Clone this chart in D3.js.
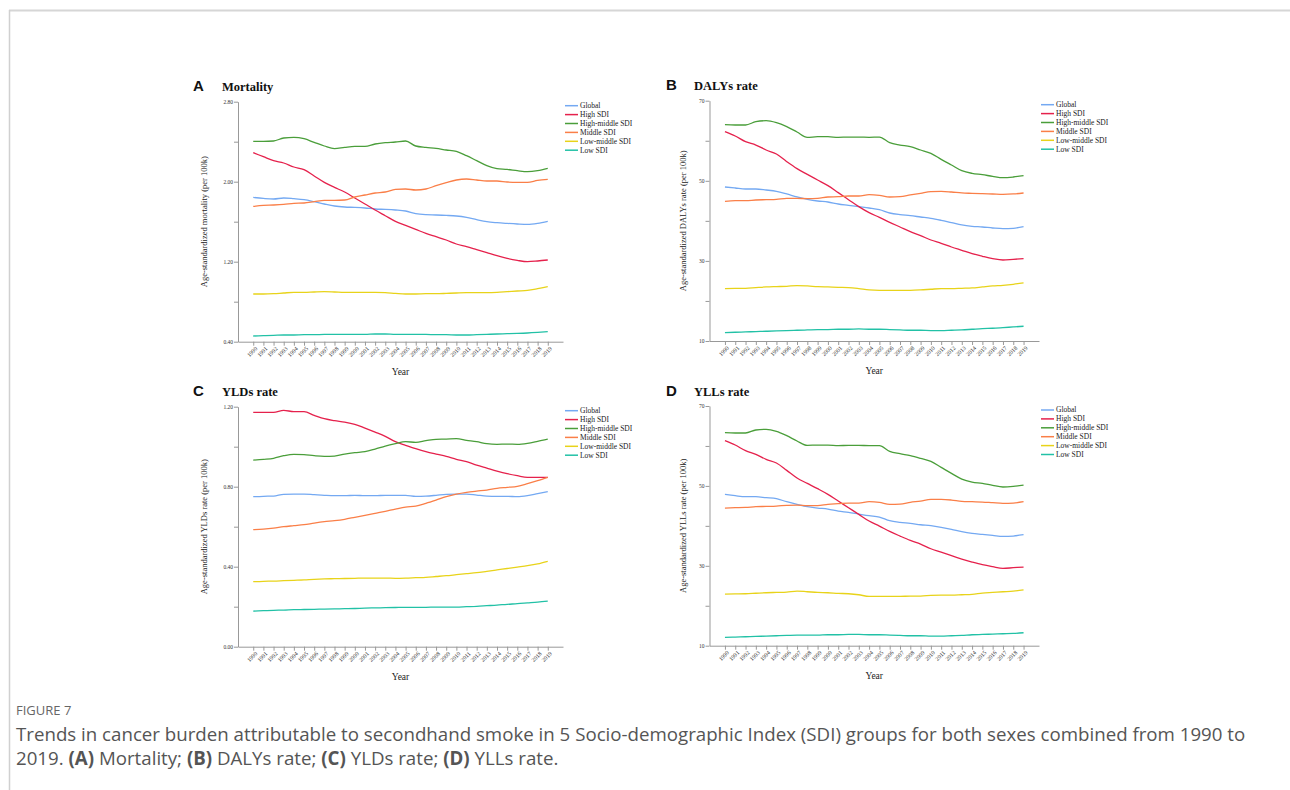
<!DOCTYPE html>
<html>
<head>
<meta charset="utf-8" />
<title>Figure 7 – SDI trends</title>
<script src="https://d3js.org/d3.v7.min.js"></script>
<style>
  body { margin: 0; background: #fff; }
  .serif { font-family: "Liberation Serif", "DejaVu Serif", serif; }
  .axis path, .axis line { stroke: #999; }
  .axis text { font-family: "Liberation Serif", serif; fill: #333; }
</style>
</head>
<body>
<svg width="1290" height="790"></svg>
<script>
const years = [1990,1991,1992,1993,1994,1995,1996,1997,1998,1999,2000,2001,2002,2003,2004,
               2005,2006,2007,2008,2009,2010,2011,2012,2013,2014,2015,2016,2017,2018,2019];
const seriesNames = ["Global", "High SDI", "High-middle SDI", "Middle SDI", "Low-middle SDI", "Low SDI"];
const seriesColors = ["#74a9f2", "#e5214c", "#4a9e3a", "#fa7f48", "#e8d31a", "#22c1a6"];

// A: mortality (per 100k), rows follow seriesNames
const mortality = [
  [1.843,1.833,1.827,1.837,1.83,1.82,1.80,1.777,1.757,1.747,1.743,1.737,1.727,1.723,1.717,1.707,1.68,1.67,1.667,1.663,1.657,1.643,1.62,1.60,1.59,1.583,1.577,1.573,1.583,1.603],
  [2.29,2.25,2.21,2.187,2.147,2.12,2.057,1.993,1.943,1.897,1.837,1.777,1.717,1.66,1.603,1.563,1.523,1.483,1.45,1.417,1.377,1.35,1.32,1.29,1.26,1.233,1.213,1.20,1.207,1.217],
  [2.403,2.403,2.407,2.437,2.443,2.43,2.393,2.357,2.33,2.343,2.353,2.353,2.377,2.39,2.397,2.407,2.357,2.343,2.333,2.317,2.303,2.26,2.21,2.16,2.13,2.123,2.11,2.10,2.11,2.133],
  [1.753,1.763,1.767,1.773,1.783,1.787,1.80,1.813,1.813,1.817,1.847,1.867,1.887,1.897,1.923,1.927,1.917,1.927,1.96,1.99,2.017,2.027,2.017,2.007,2.007,1.997,1.993,1.993,2.013,2.023],
  [0.877,0.877,0.88,0.887,0.893,0.893,0.897,0.90,0.897,0.893,0.893,0.893,0.893,0.89,0.883,0.877,0.877,0.88,0.88,0.883,0.887,0.89,0.89,0.89,0.893,0.90,0.907,0.913,0.93,0.95],
  [0.457,0.46,0.463,0.467,0.467,0.47,0.47,0.473,0.473,0.473,0.473,0.473,0.477,0.477,0.473,0.473,0.473,0.473,0.47,0.47,0.467,0.467,0.47,0.473,0.477,0.48,0.483,0.487,0.493,0.50]
];
// B: DALYs rate
const dalys = [
  [48.45,48.2,47.95,47.95,47.7,47.37,46.71,45.96,45.38,44.96,44.71,44.21,43.88,43.54,43.21,42.8,41.96,41.55,41.3,40.96,40.63,40.13,39.55,38.97,38.64,38.47,38.22,38.05,38.14,38.55],
  [62.26,61.18,59.77,58.93,57.69,56.69,54.78,53.03,51.61,50.2,48.79,47.04,45.29,43.54,42.04,40.88,39.63,38.47,37.3,36.31,35.22,34.39,33.47,32.64,31.81,31.15,30.57,30.23,30.4,30.57],
  [64.01,63.93,63.93,64.76,65.01,64.51,63.51,62.18,60.85,61.01,61.01,60.85,60.93,60.93,60.85,60.93,59.51,58.93,58.52,57.69,56.86,55.36,53.94,52.53,51.86,51.53,51.11,50.78,50.95,51.28],
  [44.87,45.04,45.04,45.21,45.29,45.37,45.62,45.62,45.54,45.62,45.96,46.04,46.21,46.21,46.54,46.37,45.96,46.04,46.46,46.87,47.29,47.37,47.2,46.96,46.87,46.79,46.71,46.62,46.71,46.96],
  [23.08,23.12,23.16,23.33,23.49,23.58,23.66,23.83,23.74,23.58,23.49,23.4,23.33,23.08,22.75,22.66,22.66,22.66,22.66,22.75,22.92,23.08,23.08,23.16,23.24,23.49,23.74,23.91,24.16,24.49],
  [12.1,12.18,12.26,12.35,12.43,12.51,12.6,12.68,12.76,12.85,12.85,12.93,12.93,13.01,12.93,12.93,12.85,12.76,12.68,12.68,12.6,12.6,12.68,12.76,12.93,13.1,13.18,13.34,13.51,13.68]
];
// C: YLDs rate
const ylds = [
  [0.75,0.752,0.753,0.762,0.763,0.763,0.76,0.757,0.755,0.755,0.757,0.755,0.755,0.757,0.757,0.757,0.752,0.753,0.757,0.762,0.763,0.763,0.758,0.753,0.752,0.752,0.75,0.755,0.765,0.775],
  [1.172,1.172,1.172,1.182,1.175,1.175,1.157,1.14,1.13,1.123,1.112,1.093,1.073,1.052,1.025,1.007,0.99,0.975,0.963,0.952,0.937,0.925,0.908,0.893,0.878,0.865,0.855,0.847,0.847,0.847],
  [0.933,0.937,0.942,0.955,0.962,0.96,0.955,0.952,0.953,0.963,0.97,0.975,0.988,1.003,1.015,1.025,1.022,1.03,1.037,1.038,1.04,1.032,1.025,1.015,1.012,1.013,1.012,1.017,1.027,1.038],
  [0.585,0.588,0.593,0.60,0.605,0.61,0.618,0.625,0.63,0.637,0.647,0.657,0.667,0.677,0.688,0.698,0.703,0.717,0.733,0.75,0.763,0.772,0.778,0.783,0.792,0.797,0.802,0.815,0.83,0.847],
  [0.325,0.327,0.328,0.33,0.332,0.334,0.337,0.339,0.34,0.341,0.342,0.343,0.343,0.343,0.342,0.343,0.345,0.347,0.351,0.355,0.36,0.365,0.37,0.377,0.384,0.391,0.398,0.405,0.414,0.427],
  [0.178,0.18,0.182,0.183,0.185,0.186,0.187,0.188,0.189,0.19,0.191,0.193,0.194,0.195,0.196,0.197,0.197,0.197,0.198,0.198,0.198,0.20,0.202,0.205,0.208,0.212,0.215,0.219,0.223,0.228]
];
// D: YLLs rate
const ylls = [
  [47.88,47.55,47.3,47.3,47.05,46.79,46.04,45.38,44.79,44.46,44.21,43.71,43.37,42.95,42.54,42.2,41.28,40.87,40.62,40.28,40.03,39.62,39.12,38.53,38.11,37.86,37.61,37.36,37.45,37.78],
  [61.32,60.23,58.81,57.9,56.64,55.73,53.89,51.97,50.63,49.3,47.88,46.21,44.54,42.87,41.2,39.95,38.61,37.45,36.36,35.44,34.27,33.44,32.52,31.69,30.94,30.27,29.77,29.35,29.52,29.68],
  [63.32,63.24,63.24,63.99,64.16,63.66,62.57,61.24,60.15,60.23,60.23,60.07,60.15,60.15,60.07,60.07,58.65,58.06,57.56,56.89,56.14,54.64,53.14,51.72,50.97,50.63,50.13,49.72,49.88,50.22],
  [44.46,44.54,44.62,44.79,44.87,44.96,45.12,45.21,45.04,45.04,45.38,45.54,45.71,45.71,46.04,45.88,45.38,45.46,45.88,46.21,46.63,46.63,46.46,46.13,46.04,45.96,45.79,45.63,45.71,46.04],
  [22.92,22.96,23.0,23.13,23.26,23.34,23.42,23.67,23.51,23.34,23.26,23.1,23.0,22.75,22.34,22.34,22.34,22.34,22.42,22.42,22.59,22.67,22.67,22.75,22.84,23.17,23.34,23.51,23.67,24.0],
  [12.07,12.15,12.24,12.32,12.4,12.49,12.57,12.65,12.65,12.65,12.74,12.74,12.82,12.82,12.74,12.74,12.65,12.57,12.49,12.49,12.4,12.4,12.49,12.57,12.74,12.82,12.9,12.99,13.07,13.24]
];

const mortalityTicks = [0.4, 0.8, 1.2, 1.6, 2.0, 2.4, 2.8];
const rateTicks = [10, 20, 30, 40, 50, 60, 70];
const yldsTicks = [0, 0.2, 0.4, 0.6, 0.8, 1.0, 1.2];

const svg = d3.select("svg");

// page frame
svg.append("line").attr("x1", 9).attr("x2", 1290).attr("y1", 10.5).attr("y2", 10.5)
   .attr("stroke", "#d6d6d6").attr("stroke-width", 2);
svg.append("line").attr("x1", 9.5).attr("x2", 9.5).attr("y1", 10).attr("y2", 790)
   .attr("stroke", "#d0d0d0").attr("stroke-width", 1.5);

const panels = [
  { letter: "A", title: "Mortality", values: mortality, ticks: mortalityTicks, fmt: d3.format(".2f"),
    ylabel: "Age-standardized mortality (per 100k)", left: 238, right: 563, top: 101.7, bottom: 341.7, labOff: 31, titleX: 193 },
  { letter: "B", title: "DALYs rate", values: dalys, ticks: rateTicks, fmt: d3.format("d"),
    ylabel: "Age-standardized DALYs rate (per 100k)", left: 709.5, right: 1039, top: 100.7, bottom: 341, labOff: 24, titleX: 666 },
  { letter: "C", title: "YLDs rate", values: ylds, ticks: yldsTicks, fmt: d3.format(".2f"),
    ylabel: "Age-standardized YLDs rate (per 100k)", left: 238, right: 563, top: 406.7, bottom: 646.7, labOff: 31, titleX: 193 },
  { letter: "D", title: "YLLs rate", values: ylls, ticks: rateTicks, fmt: d3.format("d"),
    ylabel: "Age-standardized YLLs rate (per 100k)", left: 709.5, right: 1039, top: 406, bottom: 645.7, labOff: 24, titleX: 666 }
];

panels.forEach(p => {
  const x = d3.scalePoint().domain(years).range([p.left, p.right]).padding(1.5);
  const y = d3.scaleLinear().domain(d3.extent(p.ticks)).range([p.bottom, p.top]);

  // panel heading
  svg.append("text").attr("x", p.titleX).attr("y", p.top - 10.5)
     .attr("font-family", "Liberation Sans, Arial, sans-serif").attr("font-weight", "bold")
     .attr("font-size", 15).attr("fill", "#111").text(p.letter);
  svg.append("text").attr("class", "serif").attr("x", p.titleX + (p.left < 400 ? 29 : 28)).attr("y", p.top - 10.5)
     .attr("font-weight", "bold").attr("font-size", 12.5).attr("fill", "#111").text(p.title);

  // y axis
  const yAxis = svg.append("g").attr("class", "axis")
     .attr("transform", `translate(${p.left},0)`)
     .call(d3.axisLeft(y).tickValues(p.ticks).tickSize(4).tickSizeOuter(0)
       .tickFormat((d, i) => i % 2 === 0 ? p.fmt(d) : ""));
  yAxis.selectAll("text").attr("font-size", 5.5).attr("x", -5);

  // x axis
  const xAxis = svg.append("g").attr("class", "axis")
     .attr("transform", `translate(0,${p.bottom})`)
     .call(d3.axisBottom(x).tickSize(4).tickSizeOuter(0));
  xAxis.selectAll("text").attr("font-size", 5.8)
     .attr("text-anchor", "end")
     .attr("transform", "translate(-1,1) rotate(-45)")
     .attr("dy", "0.35em").attr("y", 6).attr("x", -1);

  // axis titles
  svg.append("text").attr("class", "serif")
     .attr("transform", `translate(${p.left - p.labOff},${(p.top + p.bottom) / 2}) rotate(-90)`)
     .attr("text-anchor", "middle").attr("font-size", 8.5).attr("fill", "#222").text(p.ylabel);
  svg.append("text").attr("class", "serif")
     .attr("x", (p.left + p.right) / 2).attr("y", p.bottom + 33)
     .attr("text-anchor", "middle").attr("font-size", 9.5).attr("fill", "#222").text("Year");

  // series lines
  const line = d3.line().x((d, i) => x(years[i])).y(d => y(d)).curve(d3.curveMonotoneX);
  p.values.forEach((vals, si) => {
    svg.append("path").attr("d", line(vals)).attr("fill", "none")
       .attr("stroke", seriesColors[si]).attr("stroke-width", 1.3);
  });

  // legend
  const lg = svg.append("g").attr("transform", `translate(${p.right + 2},${p.top + 4})`);
  seriesNames.forEach((name, i) => {
    const row = lg.append("g").attr("transform", `translate(0,${i * 8.9})`);
    row.append("line").attr("x1", 0).attr("x2", 13).attr("y1", 0).attr("y2", 0)
       .attr("stroke", seriesColors[i]).attr("stroke-width", 1.5);
    row.append("text").attr("class", "serif").attr("x", 15).attr("y", 0).attr("dy", "0.33em")
       .attr("font-size", 7.5).attr("fill", "#222").text(name);
  });
});

// caption
svg.append("text").attr("x", 16).attr("y", 715)
   .attr("font-family", "Open Sans, sans-serif").attr("font-size", 13).attr("fill", "#666")
   .text("FIGURE 7");
const cap1 = svg.append("text").attr("x", 16).attr("y", 741)
   .attr("font-family", "Open Sans, sans-serif").attr("font-size", 18.7).attr("fill", "#555");
cap1.text("Trends in cancer burden attributable to secondhand smoke in 5 Socio-demographic Index (SDI) groups for both sexes combined from 1990 to");
const cap2 = svg.append("text").attr("x", 16).attr("y", 765)
   .attr("font-family", "Open Sans, sans-serif").attr("font-size", 18.7).attr("fill", "#555");
[["2019. ", false], ["(A)", true], [" Mortality; ", false], ["(B)", true], [" DALYs rate; ", false],
 ["(C)", true], [" YLDs rate; ", false], ["(D)", true], [" YLLs rate.", false]].forEach(([t, b]) => {
  cap2.append("tspan").attr("font-weight", b ? "bold" : "normal").text(t);
});
</script>
</body>
</html>
